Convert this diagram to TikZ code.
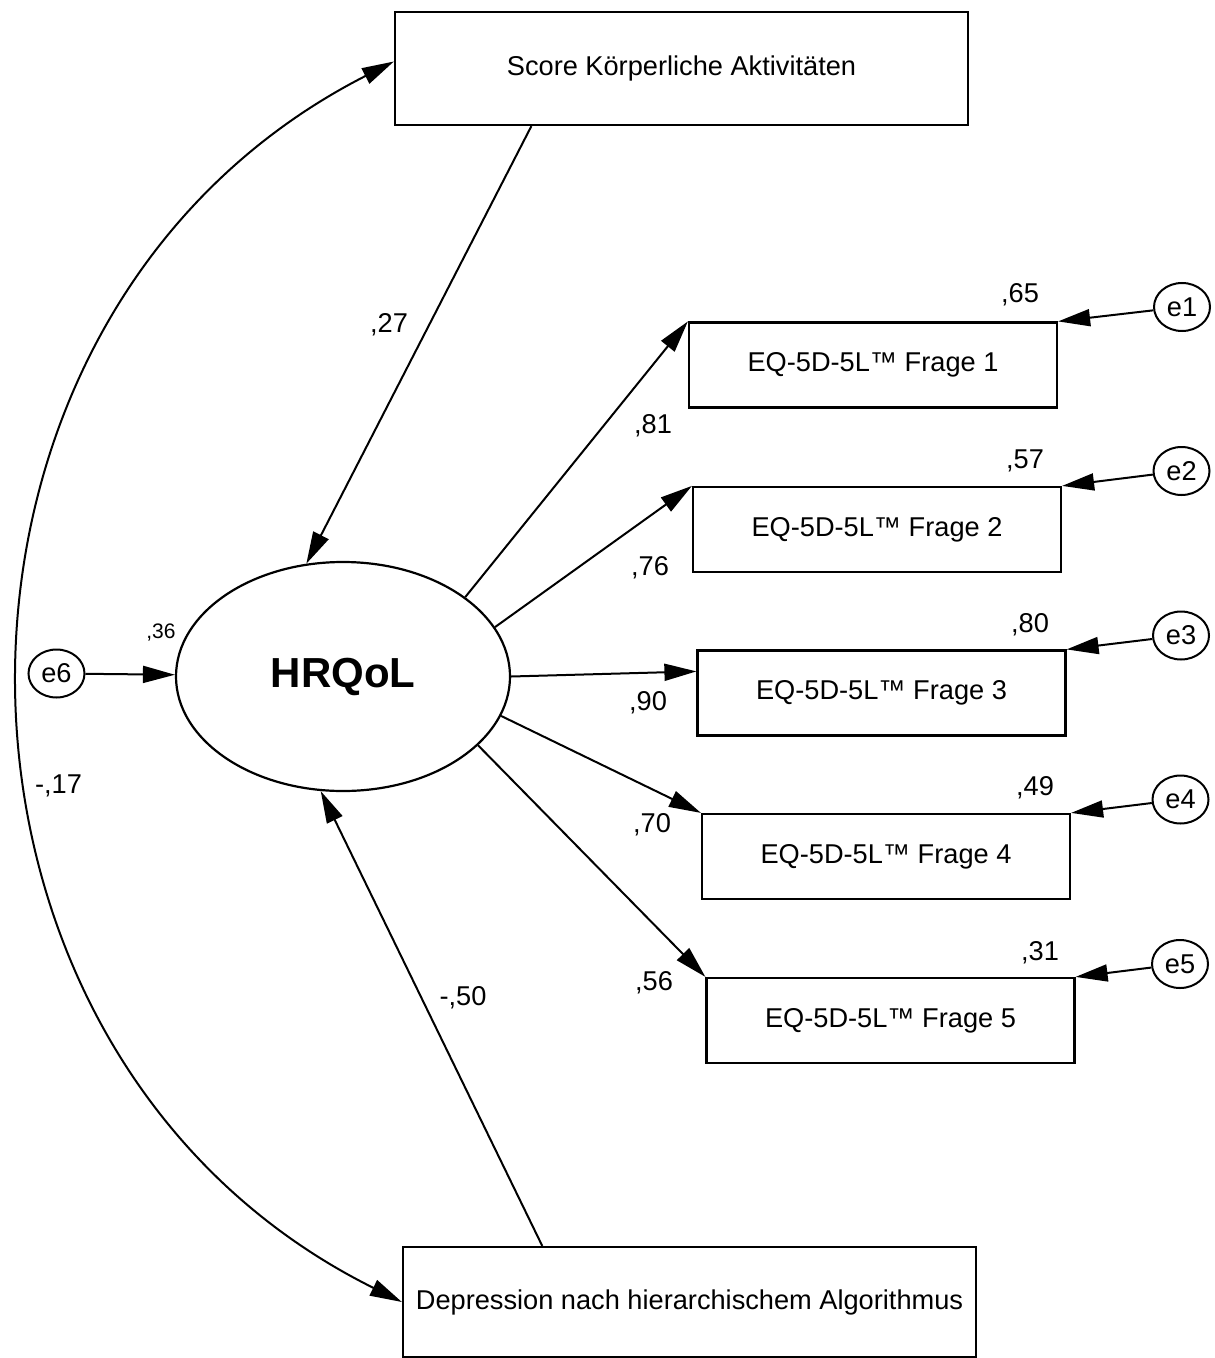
\documentclass[tikz,border=0pt]{standalone}
\usepackage{fontspec}
\setmainfont{Liberation Sans}
\usetikzlibrary{shapes.geometric,arrows.meta,calc}

\begin{document}
\begin{tikzpicture}[x=0.5pt, y=0.5pt, line width=1pt,
					every node/.style = {font=\fontsize{13.6}{16}\selectfont},
					obs/.style = {draw, rectangle, line width=1.1pt, inner sep=0pt},
					item/.style = {obs, minimum width=184pt, minimum height=42.5pt},
					err/.style = {draw, ellipse, inner sep=0pt,
						minimum width=28pt, minimum height=24pt},
					val/.style = {anchor=base, inner sep=0pt},
					reg/.style = {-{Triangle[length=16pt,width=8.5pt]}},
					cov/.style = {{Triangle[length=16pt,width=8.5pt]}-{Triangle[length=16pt,width=8.5pt]}}]
	\useasboundingbox (0,0) rectangle (1214,-1358);
	% observed variables
	\node[obs, minimum width=286.5pt, minimum height=56.5pt] (score) at (681.5,-68.5) {Score Körperliche Aktivitäten};
	\node[obs, minimum width=286.5pt, minimum height=55pt] (depr) at (689.5,-1302) {Depression nach hierarchischem Algorithmus};
	\node[item] (q1) at (873,-365) {EQ-5D-5L™ Frage 1};
	\node[item] (q2) at (877,-529.5) {EQ-5D-5L™ Frage 2};
	\node[item] (q3) at (881.5,-693) {EQ-5D-5L™ Frage 3};
	\node[item] (q4) at (886,-856.5) {EQ-5D-5L™ Frage 4};
	\node[item] (q5) at (890.5,-1020.5) {EQ-5D-5L™ Frage 5};
	% latent variable and errors
	\node[draw, ellipse, line width=1.1pt, inner sep=0pt, minimum width=167pt, minimum height=114.5pt,
		font=\fontsize{21}{24}\selectfont\bfseries] (hrqol) at (343,-676.5) {HRQoL};
	\node[err] (e6) at (56.5,-673.5) {e6};
	\node[err] (e1) at (1182,-307) {e1};
	\node[err] (e2) at (1181.5,-471) {e2};
	\node[err] (e3) at (1181,-635.5) {e3};
	\node[err] (e4) at (1180.5,-799.5) {e4};
	\node[err] (e5) at (1180,-964) {e5};
	% paths
	\draw[reg] ($(score.south west)!0.239!(score.south east)$) -- (hrqol.108);
	\draw[reg] ($(depr.north west)!0.244!(depr.north east)$) -- (hrqol.259);
	\draw[reg] (e6) -- (hrqol);
	\draw[reg] (hrqol.33) -- (q1.north west);
	\draw[reg] (hrqol.18) -- (q2.north west);
	\draw[reg] (hrqol.0) -- ([yshift=-11pt]q3.north west);
	\draw[reg] (hrqol.346) -- (q4.north west);
	\draw[reg] (hrqol.333) -- (q5.north west);
	\draw[reg] (e1) -- (q1.north east);
	\draw[reg] (e2) -- (q2.north east);
	\draw[reg] (e3) -- (q3.north east);
	\draw[reg] (e4) -- (q4.north east);
	\draw[reg] (e5) -- (q5.north east);
	\draw[cov] ([yshift=3.5pt]score.west) .. controls +(207:561) and +(153.6:561) .. (depr.west);
	% estimates
	\node[val] (w0) at (389,-333) {,27};
	\node[val] (w6) at (463,-1005) {-,50};
	\node[val] (wc) at (58.5,-793) {-,17};
	\node[val, font=\fontsize{10.5}{12}\selectfont] (rh) at (161,-638) {,36};
	\node[val] (w1) at (653,-433) {,81};
	\node[val] (w2) at (650,-575) {,76};
	\node[val] (w3) at (648,-710) {,90};
	\node[val] (w4) at (652,-832) {,70};
	\node[val] (w5) at (654,-990) {,56};
	\node[val] (r1) at (1020,-303) {,65};
	\node[val] (r2) at (1025,-468) {,57};
	\node[val] (r3) at (1030,-632) {,80};
	\node[val] (r4) at (1035,-795) {,49};
	\node[val] (r5) at (1040,-960) {,31};
\end{tikzpicture}
\end{document}
